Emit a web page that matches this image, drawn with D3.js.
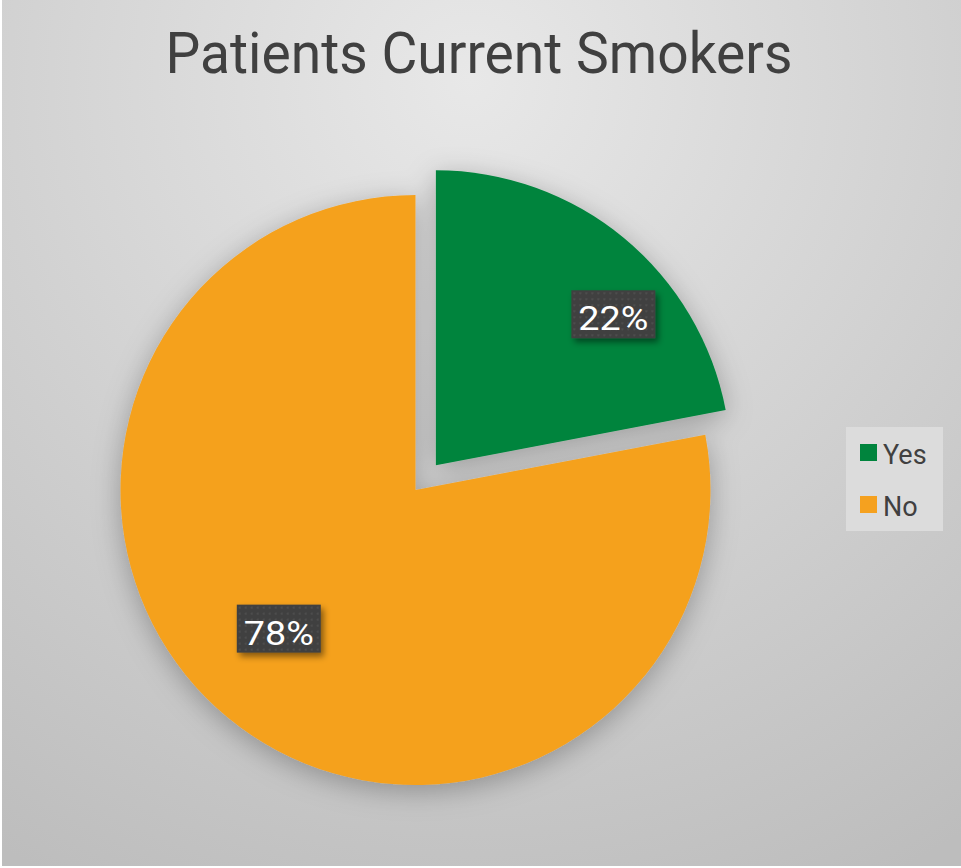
<!DOCTYPE html>
<html>
<head>
<meta charset="utf-8">
<script src="https://cdn.jsdelivr.net/npm/d3@7"></script>
<style>
  html, body { margin: 0; padding: 0; background: #ffffff; }
  #chart svg { display: block; }
</style>
</head>
<body>
<div id="chart"></div>
<script>
// data
const categories = ["Yes", "No"];
const values = [22, 78];
const colors = ["#00843D", "#F5A11F"];
const labelRadius = [0.79, 0.66];   // share of radius where the label box sits
const labelShift = [10, 5];         // degrees, Excel "best fit" nudges

function init() {
    const w = 961;
    const h = 868;
    const cx = 415.5, cy = 490, r = 295;
    const explode = 32;
    const font = "'Liberation Sans Narrow', 'Roboto', sans-serif";

    const svg = d3.select("#chart")
        .append("svg")
        .attr("width", w)
        .attr("height", h);

    const defs = svg.append("defs");

    // background gradient
    const bg = defs.append("radialGradient")
        .attr("id", "bg")
        .attr("gradientUnits", "userSpaceOnUse")
        .attr("cx", 470).attr("cy", 80).attr("r", 900);
    bg.append("stop").attr("offset", "0%").attr("stop-color", "#e8e8e8");
    bg.append("stop").attr("offset", "100%").attr("stop-color", "#bdbdbd");

    const shadow = defs.append("filter")
        .attr("id", "pieShadow")
        .attr("x", "-30%").attr("y", "-30%")
        .attr("width", "160%").attr("height", "160%");
    shadow.append("feDropShadow")
        .attr("dx", 0).attr("dy", 6)
        .attr("stdDeviation", 14)
        .attr("flood-color", "#000")
        .attr("flood-opacity", 0.28);

    const boxShadow = defs.append("filter")
        .attr("id", "boxShadow")
        .attr("x", "-20%").attr("y", "-20%")
        .attr("width", "150%").attr("height", "160%");
    boxShadow.append("feDropShadow")
        .attr("dx", 3).attr("dy", 4)
        .attr("stdDeviation", 3)
        .attr("flood-color", "#000")
        .attr("flood-opacity", 0.45);

    // dotted texture for label boxes
    const pat = defs.append("pattern")
        .attr("id", "dots")
        .attr("patternUnits", "userSpaceOnUse")
        .attr("width", 6).attr("height", 6);
    pat.append("rect").attr("width", 6).attr("height", 6).attr("fill", "#3f3f3f");
    pat.append("circle").attr("cx", 3).attr("cy", 3).attr("r", 1.3).attr("fill", "#4d4d4d");

    svg.append("rect")
        .attr("x", 2).attr("y", 0)
        .attr("width", w - 2).attr("height", h - 2)
        .attr("fill", "url(#bg)");

    // title
    svg.append("text")
        .attr("x", 479)
        .attr("y", 73)
        .attr("text-anchor", "middle")
        .attr("font-family", font)
        .attr("font-size", "57px")
        .attr("textLength", 627)
        .attr("lengthAdjust", "spacingAndGlyphs")
        .attr("fill", "#404040")
        .text("Patients Current Smokers");

    const data = categories.map((c, i) => ({ cat: c, value: values[i] }));

    const pie = d3.pie()
        .sort(null)
        .value(d => d.value);

    const arc = d3.arc()
        .innerRadius(0)
        .outerRadius(r);

    const arcs = pie(data);

    const offset = (d, i) => {
        if (i !== 0) return [0, 0];
        const a = (d.startAngle + d.endAngle) / 2;
        return [Math.sin(a) * explode, -Math.cos(a) * explode];
    };

    const g = svg.append("g")
        .attr("transform", `translate(${cx},${cy})`)
        .attr("filter", "url(#pieShadow)");

    g.selectAll("path")
        .data(arcs)
        .enter()
        .append("path")
        .attr("d", arc)
        .attr("transform", (d, i) => `translate(${offset(d, i)})`)
        .attr("fill", (d, i) => colors[i]);

    // data labels
    const labels = svg.append("g")
        .attr("transform", `translate(${cx},${cy})`);

    arcs.forEach((d, i) => {
        const a = (d.startAngle + d.endAngle) / 2 + labelShift[i] * Math.PI / 180;
        const o = offset(d, i);
        const lx = o[0] + Math.sin(a) * r * labelRadius[i];
        const ly = o[1] - Math.cos(a) * r * labelRadius[i];
        const bw = 84, bh = 48;
        const lg = labels.append("g").attr("transform", `translate(${lx},${ly})`);
        lg.append("rect")
            .attr("x", -bw / 2).attr("y", -bh / 2)
            .attr("width", bw).attr("height", bh)
            .attr("fill", "url(#dots)")
            .attr("filter", "url(#boxShadow)");
        lg.append("text")
            .attr("x", 0)
            .attr("y", 16)
            .attr("text-anchor", "middle")
            .attr("font-family", font)
            .attr("font-size", "33px")
            .attr("textLength", 70)
            .attr("lengthAdjust", "spacingAndGlyphs")
            .attr("fill", "#ffffff")
            .text(Math.round(d.data.value) + "%");
    });

    // legend
    const legend = svg.append("g").attr("transform", "translate(846,427)");
    legend.append("rect")
        .attr("width", 97).attr("height", 104)
        .attr("fill", "#dcdcdc");

    const items = legend.selectAll("g.item")
        .data(categories)
        .enter()
        .append("g")
        .attr("class", "item")
        .attr("transform", (d, i) => `translate(14,${17 + i * 52})`);

    items.append("rect")
        .attr("width", 17).attr("height", 17)
        .attr("fill", (d, i) => colors[i]);

    items.append("text")
        .attr("x", 23)
        .attr("y", 20)
        .attr("font-family", font)
        .attr("font-size", "27px")
        .attr("fill", "#404040")
        .text(d => d);
}

window.onload = init;
</script>
</body>
</html>
